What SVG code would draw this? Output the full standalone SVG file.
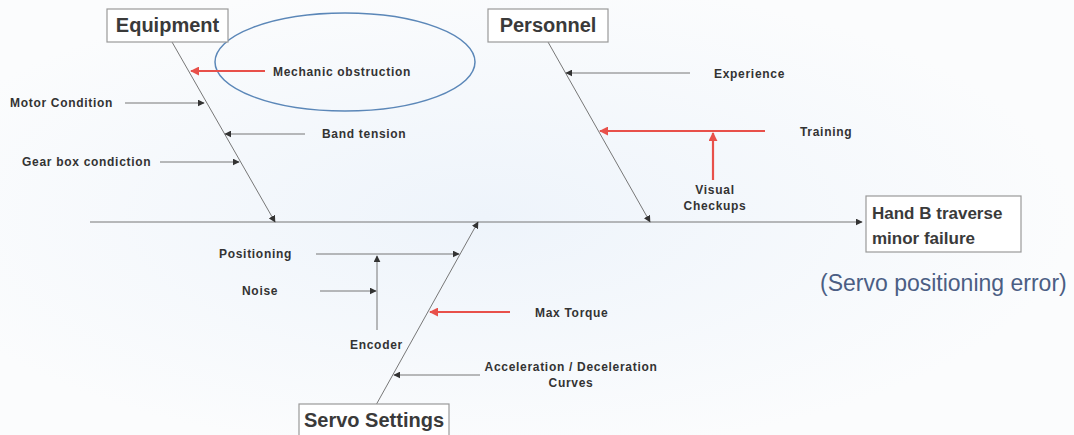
<svg xmlns="http://www.w3.org/2000/svg" width="1074" height="435" viewBox="0 0 1074 435">
<defs>
<radialGradient id="bg" cx="0.45" cy="0.5" r="0.55">
<stop offset="0" stop-color="#eef4fb"/>
<stop offset="1" stop-color="#fbfcfd"/>
</radialGradient>
<marker id="ah" viewBox="0 0 10 10" refX="9" refY="5" markerWidth="7" markerHeight="7" markerUnits="userSpaceOnUse" orient="auto">
<path d="M0,0 L10,5 L0,10 z" fill="#333"/>
</marker>
<marker id="ahr" viewBox="0 0 10 10" refX="9" refY="5" markerWidth="9" markerHeight="9" markerUnits="userSpaceOnUse" orient="auto">
<path d="M0,0 L10,5 L0,10 z" fill="#e8504a"/>
</marker>
</defs>
<style>
.ln{stroke:#666;stroke-width:1;fill:none}
.ar{stroke:#777;stroke-width:1;fill:none;marker-end:url(#ah)}
.rd{stroke:#e8504a;stroke-width:2.2;fill:none;marker-end:url(#ahr)}
.lb{font-family:"Liberation Sans",Arial,sans-serif;font-size:12px;letter-spacing:0.7px;font-weight:bold;fill:#333}
.tt{font-family:"Liberation Sans",Arial,sans-serif;font-size:20px;font-weight:bold;fill:#3a3a3a}
.bx{fill:#fff;stroke:#999;stroke-width:1.2}
</style>
<rect width="1074" height="435" fill="url(#bg)"/>
<ellipse cx="345" cy="62" rx="130" ry="49" fill="none" stroke="#5b87b8" stroke-width="1.5"/>
<g id="connectors">
<line class="ar" x1="90" y1="222" x2="862" y2="222"/>
<line class="ar" x1="172" y1="42" x2="275" y2="222"/>
<line class="ar" x1="548" y1="42" x2="650" y2="222"/>
<line class="ar" x1="376" y1="405" x2="478" y2="222"/>
<line class="rd" x1="265" y1="71" x2="191" y2="71"/>
<line class="ar" x1="125" y1="103" x2="204" y2="103"/>
<line class="ar" x1="305" y1="134" x2="225" y2="134"/>
<line class="ar" x1="160" y1="162" x2="239" y2="162"/>
<line class="ar" x1="690" y1="73" x2="566" y2="73"/>
<line class="rd" x1="765" y1="131" x2="600" y2="131"/>
<line class="rd" x1="713" y1="180" x2="713" y2="133"/>
<line class="ar" x1="316" y1="254" x2="459" y2="254"/>
<line class="ar" x1="377" y1="330" x2="377" y2="256"/>
<line class="ar" x1="320" y1="291" x2="376" y2="291"/>
<line class="rd" x1="510" y1="312" x2="430" y2="312"/>
<line class="ar" x1="480" y1="375" x2="394" y2="375"/>
</g>
<g id="equipment">
<rect class="bx" x="107" y="9" width="121" height="33"/>
<text class="tt" x="167.5" y="32" text-anchor="middle">Equipment</text>
</g>
<g id="personnel">
<rect class="bx" x="488" y="9" width="120" height="33"/>
<text class="tt" x="548" y="32" text-anchor="middle">Personnel</text>
</g>
<g id="servo">
<rect class="bx" x="299" y="404" width="150" height="36"/>
<text class="tt" x="374" y="427" text-anchor="middle">Servo Settings</text>
</g>
<g id="effect">
<rect class="bx" x="866" y="196" width="155" height="56"/>
<text x="872" y="219" font-family="'Liberation Sans',Arial,sans-serif" font-size="17" font-weight="bold" fill="#3a3a3a">Hand B traverse</text>
<text x="872" y="244" font-family="'Liberation Sans',Arial,sans-serif" font-size="17" font-weight="bold" fill="#3a3a3a">minor failure</text>
<text x="820" y="291" font-family="'Liberation Sans',Arial,sans-serif" font-size="23" fill="#4b5e84">(Servo positioning error)</text>
</g>
<g id="labels">
<text class="lb" x="273" y="76">Mechanic obstruction</text>
<text class="lb" x="10" y="107">Motor Condition</text>
<text class="lb" x="322" y="138">Band tension</text>
<text class="lb" x="22" y="166">Gear box condiction</text>
<text class="lb" x="714" y="78">Experience</text>
<text class="lb" x="800" y="136">Training</text>
<text class="lb" x="715" y="194" text-anchor="middle">Visual</text>
<text class="lb" x="715" y="210" text-anchor="middle">Checkups</text>
<text class="lb" x="219" y="258">Positioning</text>
<text class="lb" x="242" y="295">Noise</text>
<text class="lb" x="350" y="349">Encoder</text>
<text class="lb" x="535" y="317">Max Torque</text>
<text class="lb" x="571" y="371" text-anchor="middle">Acceleration / Deceleration</text>
<text class="lb" x="571" y="387" text-anchor="middle">Curves</text>
</g>
</svg>
